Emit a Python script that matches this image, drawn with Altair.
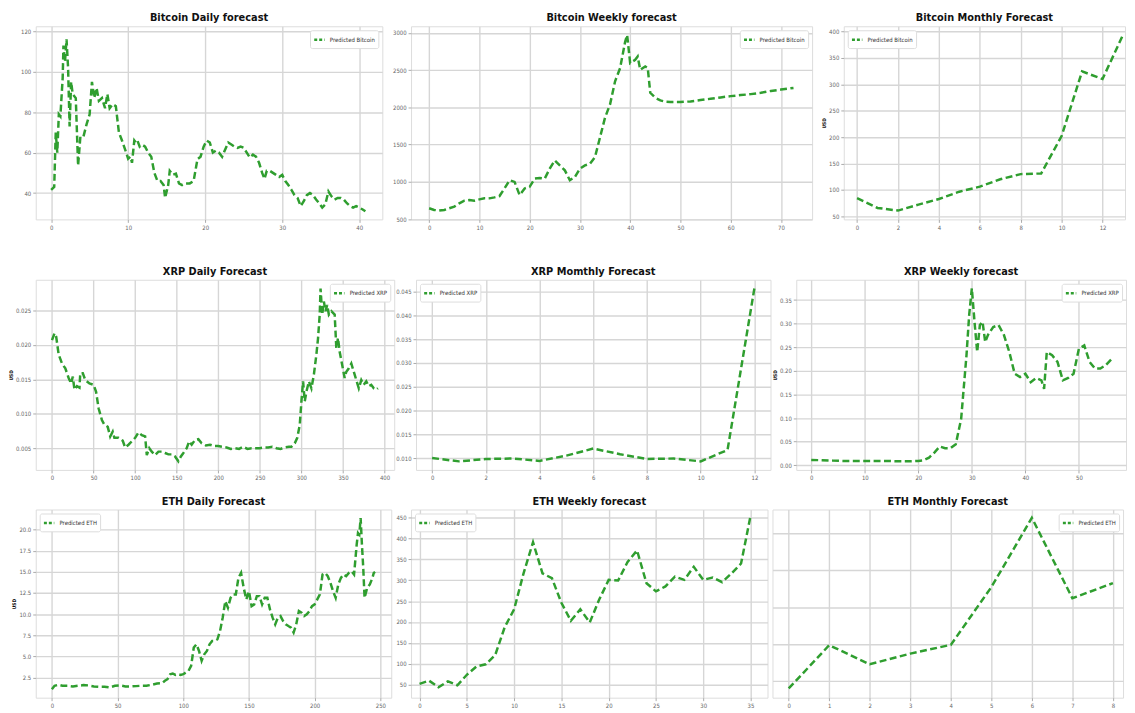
import altair as alt
import pandas as pd

GREEN = "#2f9e2f"
TITLE_FONT = "DejaVu Sans Condensed, Liberation Sans Narrow, Liberation Sans, sans-serif"
LABEL_FONT = "DejaVu Sans Condensed, Liberation Sans, sans-serif"

# ---------------- data ----------------
btc_daily = [(0,41.6),(0.4,43),(0.6,70),(0.8,60),(1,79),(1.2,78),(1.5,97),(1.6,113),(1.8,105),(2.0,116),
             (2.2,102),(2.4,73),(2.6,95),(2.8,89),(3.2,87),(3.5,53.6),(3.8,68),(4.2,68),(4.6,74),(5.0,79),
             (5.3,95),(5.6,87),(5.9,92),(6.2,85.6),(6.6,87),(7.0,82),(7.3,89),(7.6,82),(8.0,84),(8.4,83),
             (8.8,70),(9.2,66),(9.6,61.6),(10.0,57),(10.3,58),(10.5,55),(10.8,66),(11.0,65),(11.2,66),(11.5,63),
             (11.8,64),(12.2,63),(12.6,60),(13.0,58),(13.4,50),(13.8,46),(14.2,46),(14.6,44),(14.8,37.6),(15.2,44),
             (15.4,51),(15.8,49),(16.2,49.6),(16.6,44.8),(17.0,44),(17.5,44.8),(18.0,44.8),(18.5,46),(19.0,56.8),(19.4,58),
             (19.8,63),(20.2,66),(20.6,65),(21.0,60),(21.4,61),(21.8,60),(22.2,58),(22.6,61.6),(23.0,65),(23.4,64),
             (23.8,63),(24.2,62.4),(24.6,63),(25.0,62.4),(25.4,60),(25.8,57.6),(26.2,59),(26.6,58),(27.0,55),(27.4,50),
             (27.7,47),(28.0,51),(28.4,51),(28.8,50),(29.2,49),(29.6,48),(30.0,49),(30.4,46),(30.8,44),(31.2,41.6),
             (31.6,39),(32.0,37.6),(32.4,33.6),(32.8,36),(33.2,39),(33.6,40),(34.0,39),(34.4,36.8),(34.8,35),(35.2,32.8),
             (35.6,34.4),(36.0,40.8),(36.4,38.4),(36.8,36.8),(37.2,37.6),(37.6,37.6),(38.0,36.8),(38.4,35),(38.8,33.6),(39.2,32.8),
             (39.6,33.6),(40.0,32.8),(40.4,32),(40.8,31)]

btc_weekly = [(0,646),(1,624),(2,615),(3,624),(4,646),(5,668),(6,712),(7,748),(8,757),(9,748),
              (10,765),(11,779),(12,779),(13,792),(14,810),(15,912),(16,1022),(17,1000),(18,823),(19,912),
              (20,934),(21,1044),(22,1053),(23,1044),(24,1177),(25,1288),(26,1221),(27,1155),(28,1022),(29,1066),
              (30,1177),(31,1221),(32,1243),(33,1332),(34,1597),(35,1862),(36,2040),(37,2350),(38,2526),(39,2880),
              (39.4,2969),(40,2593),(41,2637),(41.5,2681),(42,2504),(43,2548),(43.5,2526),(44,2195),(45,2128),(46,2093),
              (47,2075),(48,2071),(50,2071),(52,2079),(54,2097),(56,2115),(58,2133),(60,2150),(62,2164),(64,2177),
              (66,2195),(68,2220),(70,2238),(72.5,2260)]

btc_monthly = [84.5, 65.7, 60.7, 72, 82.7, 96.5, 106, 120, 129.8, 131, 202, 324.5, 310, 393.6]

xrp_daily = [(0,0.0207),(3,0.0217),(5,0.0212),(8,0.0186),(12,0.0173),(16,0.0166),(20,0.0152),(23,0.0144),(25,0.0154),(27,0.0135),
             (30,0.0140),(33,0.0138),(34,0.0159),(37,0.0159),(40,0.0149),(45,0.0144),(50,0.0142),(53,0.0132),(56,0.0108),(60,0.0091),
             (63,0.0084),(67,0.0081),(70,0.0067),(73,0.0074),(75,0.0065),(80,0.0065),(85,0.0061),(88,0.0051),(92,0.0055),(96,0.0060),
             (100,0.0065),(104,0.0073),(108,0.0069),(112,0.0067),(114,0.0040),(117,0.0050),(120,0.0045),(124,0.0040),(128,0.0045),(132,0.0045),
             (136,0.0043),(140,0.0041),(144,0.0041),(148,0.0038),(152,0.0031),(155,0.0038),(158,0.0043),(162,0.0050),(165,0.0060),(168,0.0055),
             (172,0.0062),(176,0.0063),(180,0.0057),(185,0.0054),(190,0.0055),(195,0.0053),(200,0.0053),(205,0.0052),(210,0.0051),(215,0.0049),
             (220,0.0050),(225,0.0049),(230,0.0052),(235,0.0049),(240,0.0050),(245,0.0050),(250,0.0050),(255,0.0051),(260,0.0051),(265,0.0052),
             (270,0.0050),(275,0.0049),(280,0.0051),(285,0.0052),(288,0.0052),(292,0.0057),(295,0.0065),(298,0.0084),(300,0.0118),(302,0.0147),
             (304,0.0118),(306,0.0132),(309,0.0147),(312,0.0137),(315,0.0157),(318,0.0186),(320,0.0210),(322,0.0244),(323,0.0282),(325,0.0244),
             (327,0.0263),(329,0.0249),(331,0.0258),(333,0.0244),(336,0.0249),(340,0.0244),(342,0.0195),(344,0.0210),(346,0.0190),(349,0.0171),
             (352,0.0152),(354,0.0161),(357,0.0166),(360,0.0173),(363,0.0161),(366,0.0149),(369,0.0137),(372,0.0149),(375,0.0142),(378,0.0147),
             (381,0.0140),(384,0.0142),(387,0.0137),(390,0.0135),(392,0.0137)]

xrp_monthly = [0.0100, 0.0093, 0.0098, 0.0099, 0.0094, 0.0105, 0.0120, 0.0108, 0.0098, 0.0099, 0.0093, 0.0117, 0.0457]

xrp_weekly = [(0,0.0114),(2,0.0107),(4,0.0099),(6,0.0092),(8,0.0092),(10,0.0092),(12,0.0092),(14,0.0092),(16,0.0085),(18,0.0085),
              (20,0.0092),(21,0.0107),(22,0.0163),(23,0.0270),(24,0.0398),(25,0.0362),(26,0.0362),(27,0.0447),(28,0.0980),(29,0.233),
              (29.5,0.318),(30,0.375),(30.5,0.304),(31,0.240),(31.5,0.297),(32,0.304),(32.5,0.261),(33,0.276),(34,0.293),(35,0.297),
              (36,0.276),(37,0.240),(38,0.194),(39,0.187),(40,0.194),(41,0.176),(42,0.185),(43,0.180),(43.5,0.162),(44,0.240),
              (45,0.233),(46,0.219),(47,0.180),(48,0.185),(49,0.194),(50,0.247),(51,0.254),(52,0.219),(53,0.205),(54,0.205),
              (55,0.212),(56,0.224)]

eth_daily = [(0,1.12),(2,1.52),(5,1.64),(8,1.52),(12,1.52),(16,1.44),(20,1.52),(24,1.60),(28,1.56),(32,1.44),
             (36,1.40),(40,1.40),(44,1.32),(48,1.52),(52,1.56),(56,1.44),(60,1.44),(64,1.48),(68,1.52),(72,1.52),
             (76,1.64),(80,1.79),(84,1.83),(86,2.11),(88,2.30),(90,2.89),(92,2.97),(94,2.81),(96,2.89),(98,2.81),
             (100,2.89),(102,3.09),(104,3.29),(106,3.88),(108,6.04),(110,6.43),(112,5.64),(114,4.47),(116,5.25),(118,5.64),
             (120,6.43),(122,6.82),(124,6.82),(126,7.02),(128,8.00),(130,9.58),(132,11.54),(134,10.76),(136,11.93),(138,12.33),
             (140,12.33),(142,14.29),(144,14.88),(146,13.11),(148,11.74),(150,12.72),(152,10.95),(154,11.15),(156,12.13),(158,12.13),
             (160,11.15),(162,11.93),(164,11.93),(166,10.56),(168,9.58),(170,8.79),(172,9.58),(174,9.77),(176,9.18),(178,8.79),
             (180,8.59),(182,8.40),(184,7.81),(186,8.79),(188,10.36),(190,10.17),(192,9.77),(194,9.97),(196,10.36),(198,10.95),
             (200,11.15),(202,11.74),(204,12.33),(206,14.69),(208,14.88),(210,14.49),(212,13.70),(214,12.72),(216,11.93),(218,13.51),
             (220,14.29),(222,14.69),(224,14.49),(226,14.88),(228,15.08),(230,14.69),(232,18.22),(233,19.60),(234,19.41),(235,21.37),
             (236,18.22),(237,15.47),(238,11.93),(240,13.11),(242,13.51),(244,14.29),(245,14.88),(246,15.0)]

eth_weekly = [51.6, 59.4, 43.7, 57.8, 48.4, 73.5, 93.1, 98.6, 120.6, 187.3, 230.4, 316.7, 391.2, 316.7, 305,
              246, 203, 230.4, 199, 253.9, 301, 299.4, 344, 371.6, 293, 273.5, 285.3, 308.8, 301, 332.4,
              301, 306.5, 295.5, 316.7, 340.2, 453.9]

eth_monthly = [80, 197.3, 145.5, 174.5, 198.2, 354.5, 542.7, 324.5, 365.5]


def axis(values, fmt, labels=True, title=None):
    kw = dict(values=values, labelFontSize=6, labelColor="#666", tickColor="#aaa", tickSize=3,
              tickWidth=1, gridColor="#d6d6d6", gridWidth=1.4, domain=False, labelPadding=2,
              labels=labels, ticks=labels, labelFont=LABEL_FONT)
    if fmt is not None:
        kw["format"] = fmt
    if title is not None:
        kw.update(title=title, titleFontSize=5, titleFontWeight="bold", titleColor="#111", titlePadding=2,
                  titleFont=LABEL_FONT)
    else:
        kw["title"] = None
    return alt.Axis(**kw)


def panel(title, xs, ys, name, xdom, ydom, xticks, yticks, w, h, orient,
          xfmt="d", yfmt=None, ytitle=None, ylabels=True):
    df = pd.DataFrame({"x": xs, "y": ys, "s": [name] * len(xs)})
    return (
        alt.Chart(df, title=alt.Title(title, fontSize=11, fontWeight="bold", font=TITLE_FONT,
                                      color="#111", offset=3, anchor="middle"))
        .mark_line(strokeDash=[7, 3.5], strokeWidth=2.5, clip=True)
        .encode(
            x=alt.X("x:Q", scale=alt.Scale(domain=xdom, nice=False, zero=False), axis=axis(xticks, xfmt)),
            y=alt.Y("y:Q", scale=alt.Scale(domain=ydom, nice=False, zero=False),
                    axis=axis(yticks, yfmt, labels=ylabels, title=ytitle)),
            color=alt.Color("s:N", scale=alt.Scale(range=[GREEN]),
                            legend=alt.Legend(title=None, orient=orient, labelFontSize=6, labelColor="#333",
                                              labelFont=LABEL_FONT,
                                              symbolType="stroke", symbolStrokeWidth=2.5, symbolDash=[3, 2],
                                              symbolSize=110, symbolStrokeColor=GREEN,
                                              strokeColor="#dddddd", fillColor="white", padding=3,
                                              cornerRadius=2, offset=4)),
        )
        .properties(width=w, height=h)
    )


def split(pairs):
    return [p[0] for p in pairs], [p[1] for p in pairs]


bdx, bdy = split(btc_daily)
bwx, bwy = split(btc_weekly)
xdx, xdy = split(xrp_daily)
xwx, xwy = split(xrp_weekly)
edx, edy = split(eth_daily)

p1 = panel("Bitcoin Daily forecast", bdx, bdy, "Predicted Bitcoin", [-2, 43], [27, 122.5],
           [0, 10, 20, 30, 40], [40, 60, 80, 100, 120], 350, 195, "top-right", yfmt="d")
p2 = panel("Bitcoin Weekly forecast", bwx, bwy, "Predicted Bitcoin", [-3.6, 76.2], [497, 3087],
           list(range(0, 71, 10)), list(range(500, 3001, 500)), 405, 195, "top-right", yfmt="d")
p3 = panel("Bitcoin Monthly Forecast", list(range(len(btc_monthly))), btc_monthly, "Predicted Bitcoin",
           [-0.65, 13.1], [44, 410], list(range(0, 13, 2)), list(range(50, 401, 50)), 284, 195,
           "top-left", yfmt="d", ytitle="USD")

q1 = panel("XRP Daily Forecast", xdx, xdy, "Predicted XRP", [-19.6, 411.6], [0.00184, 0.02946],
           list(range(0, 401, 50)), [0.005, 0.010, 0.015, 0.020, 0.025], 362, 192, "top-right",
           yfmt=".3f", ytitle="USD")
q2 = panel("XRP Momthly Forecast", list(range(len(xrp_monthly))), xrp_monthly, "Predicted XRP",
           [-0.6, 12.6], [0.0075, 0.0475], list(range(0, 13, 2)),
           [0.010, 0.015, 0.020, 0.025, 0.030, 0.035, 0.040, 0.045], 358, 192, "top-left", yfmt=".3f")
q3 = panel("XRP Weekly forecast", xwx, xwy, "Predicted XRP", [-2.8, 58.8], [-0.0098, 0.393],
           list(range(0, 51, 10)), [0.0, 0.05, 0.10, 0.15, 0.20, 0.25, 0.30, 0.35], 333, 192, "top-right",
           yfmt=".2f", ytitle="USD")

r1 = panel("ETH Daily Forecast", edx, edy, "Predicted ETH", [-12.3, 258.3], [0.11, 22.38],
           list(range(0, 251, 50)), [2.5, 5.0, 7.5, 10.0, 12.5, 15.0, 17.5, 20.0], 359, 190, "top-left",
           yfmt=".1f", ytitle="USD")
r2 = panel("ETH Weekly forecast", list(range(len(eth_weekly))), eth_weekly, "Predicted ETH",
           [-0.9, 36.8], [18.6, 469.6], list(range(0, 36, 5)), list(range(50, 451, 50)), 360, 190,
           "top-left", yfmt="d")
r3 = panel("ETH Monthly Forecast", list(range(len(eth_monthly))), eth_monthly, "Predicted ETH",
           [-0.4, 8.25], [55, 565], list(range(0, 9)), [100, 200, 300, 400, 500], 354, 190,
           "top-right", ylabels=False)

row1 = alt.hconcat(p1, p2, p3, spacing=8).resolve_scale(color="independent")
row2 = alt.hconcat(q1, q2, q3, spacing=0).resolve_scale(color="independent")
row3 = alt.hconcat(r1, r2, r3, spacing=3).resolve_scale(color="independent")

lower = alt.concat(row2, row3, columns=1, spacing=13, align="none").resolve_scale(color="independent")
chart = (
    alt.concat(row1, lower, columns=1, spacing=34, align="none")
    .resolve_scale(color="independent")
    .configure_view(stroke="#8c8c8c", strokeWidth=2)
    .configure(background="white", padding=0)
)

chart.save("out.html", embed_options={"renderer": "svg", "actions": False})
